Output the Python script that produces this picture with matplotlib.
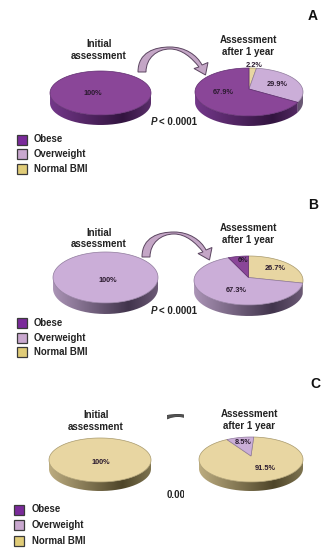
import numpy as np
import matplotlib
matplotlib.use('Agg')
import matplotlib.pyplot as plt
from matplotlib.colors import LinearSegmentedColormap
from matplotlib.path import Path
from matplotlib.patches import PathPatch, Rectangle

plt.rcParams['font.family'] = ['Liberation Sans', 'DejaVu Sans']

categories = ['Obese', 'Overweight', 'Normal BMI']
initial_a = [100, 0, 0]
initial_b = [0, 100, 0]
initial_c = [0, 0, 100]
# clockwise from the top, so order differs from the legend
after_a = [67.9, 29.9, 2.2]
after_b = [6, 67.3, 26.7]
after_c = [0, 8.5, 91.5]

top_colors = ['#8a4698', '#cbaed8', '#e8d6a2']
edge_colors = ['#5e2c6e', '#8f7a9c', '#a8996c']
legend_colors = ['#7a2a9a', '#c9a8cf', '#e0cc78']
side_colors = [['#74388a', '#32143f', '#5a2e6a'],
               ['#ab94b6', '#41344c', '#6c5a76'],
               ['#bcac80', '#4e4529', '#7e7450']]

fig = plt.figure(figsize=(3.34, 5.5), dpi=100)
ax = fig.add_axes([0, 0, 1, 1])
ax.set_axis_off()


def pie3d(cx, cy, rx, ry, depth, values, start=90, apex_dy=0):
    # order of drawing round the pie is normal, overweight, obese
    order = [2, 1, 0]
    angle = start
    for i in order:
        if values[i] == 0:
            continue
        sweep = values[i] * 3.6
        t = np.radians(np.linspace(angle, angle - sweep, 200))
        xs = cx + rx * np.cos(t)
        ys = cy - ry * np.sin(t)

        low = np.sin(t) <= 0
        if low.any():
            sx = np.r_[xs[low], xs[low][::-1]]
            sy = np.r_[ys[low], ys[low][::-1] + depth]
            cmap = LinearSegmentedColormap.from_list('s', [(0, side_colors[i][0]),
                                                           (0.72, side_colors[i][1]),
                                                           (1, side_colors[i][2])])
            im = ax.imshow(np.linspace(0, 1, 256)[None, :], cmap=cmap, aspect='auto',
                           extent=(cx - rx, cx + rx, cy + ry + depth, cy - ry), zorder=1)
            im.set_clip_path(Path(np.c_[sx, sy]), ax.transData)

        if values[i] == 100:
            ax.fill(xs, ys, color=top_colors[i], ec=edge_colors[i], lw=0.5, zorder=2)
        else:
            ax.fill(np.r_[cx, xs], np.r_[cy + apex_dy, ys], color=top_colors[i],
                    ec=edge_colors[i], lw=0.5, zorder=2)
        angle -= sweep


def arrow(dx, dy, clip=None, fc='#c4a6c6', ec='#5b4560'):
    verts = [(138, 72), (138, 52), (155, 47), (170, 47), (185, 47), (197, 55), (202, 65),
             (208, 62.5), (205.5, 75), (194, 68.5), (199, 67), (192, 58), (182, 49), (170, 49),
             (157, 49), (146, 58), (146, 72), (138, 72)]
    codes = [Path.MOVETO, Path.CURVE4, Path.CURVE4, Path.CURVE4, Path.CURVE4, Path.CURVE4,
             Path.CURVE4, Path.LINETO, Path.LINETO, Path.LINETO, Path.LINETO, Path.CURVE4,
             Path.CURVE4, Path.CURVE4, Path.CURVE4, Path.CURVE4, Path.CURVE4, Path.CLOSEPOLY]
    p = PathPatch(Path(np.array(verts) + (dx, dy), codes), fc=fc, ec=ec, lw=0.7, zorder=3)
    ax.add_patch(p)
    if clip is not None:
        p.set_clip_path(clip)


def legend(x, tx, ys, size=10):
    for name, col, y in zip(categories, legend_colors, ys):
        ax.add_patch(Rectangle((x, y - size / 2), size, size, fc=col, ec='#3a3a3a', lw=0.9))
        ax.text(tx, y, name, fontsize=6.9, fontweight='bold', color='#222222',
                ha='left', va='center')


def head(x, y1, y2, a, b):
    ax.text(x, y1, a, fontsize=7, fontweight='bold', color='#222222', ha='center', va='center')
    ax.text(x, y2, b, fontsize=7, fontweight='bold', color='#222222', ha='center', va='center')


def pct(x, y, s):
    ax.text(x, y, s, fontsize=5.3, fontweight='bold', color='#2a1a2e', ha='center', va='center',
            zorder=4)


def pvalue(y):
    ax.text(151, y, 'P', fontsize=7, fontweight='bold', style='italic', color='#222222',
            ha='left', va='center')
    ax.text(159, y, '< 0.0001', fontsize=7, fontweight='bold', color='#222222',
            ha='left', va='center')


# panel A
pie3d(100.5, 93, 50.5, 22, 10, initial_a)
pie3d(249, 92, 54, 24, 10, after_a, apex_dy=-3)
arrow(0, 0)
head(99, 44, 56, 'Initial', 'assessment')
head(248, 40, 52, 'Assessment', 'after 1 year')
pct(93, 93.5, '100%')
pct(223.5, 93, '67.9%')
pct(277, 84, '29.9%')
pct(254.5, 65.5, '2.2%')
pvalue(122)
legend(17, 34, [139.5, 154, 169])
ax.text(313, 16, 'A', fontsize=10, fontweight='bold', color='#111111', ha='center', va='center')

# panel B
pie3d(105.5, 277.5, 52.5, 25.5, 11, initial_b)
pie3d(248.5, 280.5, 54.5, 24.5, 11, after_b, apex_dy=-3)
arrow(4, 185)
head(99, 233, 244, 'Initial', 'assessment')
head(248, 228, 240, 'Assessment', 'after 1 year')
pct(108, 281, '100%')
pct(243, 260, '6%')
pct(275, 268, '26.7%')
pct(236, 290, '67.3%')
pvalue(311)
legend(17, 34, [323, 338, 352])
ax.text(313, 205, 'B', fontsize=10, fontweight='bold', color='#111111', ha='center', va='center')

# panel C, the middle of it is cut off in the original
pie3d(100, 460, 51, 22, 9, initial_c)
pie3d(251, 459.5, 52, 22.5, 9, after_c, start=87, apex_dy=-3.5)
clip_c = Rectangle((167, 405), 17, 100, transform=ax.transData)
arrow(8, 367.5, clip=clip_c, fc='#555555', ec='#444444')
head(96, 415, 427, 'Initial', 'assessment')
head(249, 414, 426, 'Assessment', 'after 1 year')
pct(101, 463, '100%')
pct(243, 442, '8.5%')
pct(265.5, 468, '91.5%')
t = ax.text(167, 495, '0.0001', fontsize=7, fontweight='bold', color='#222222',
            ha='left', va='center', clip_on=True)
t.set_clip_path(clip_c)
legend(14, 32, [509.5, 525, 540.5])
ax.text(315, 384, 'C', fontsize=10, fontweight='bold', color='#111111', ha='center', va='center')

ax.set_xlim(0, 334)
ax.set_ylim(550, 0)
fig.savefig('out.png', dpi=100)
